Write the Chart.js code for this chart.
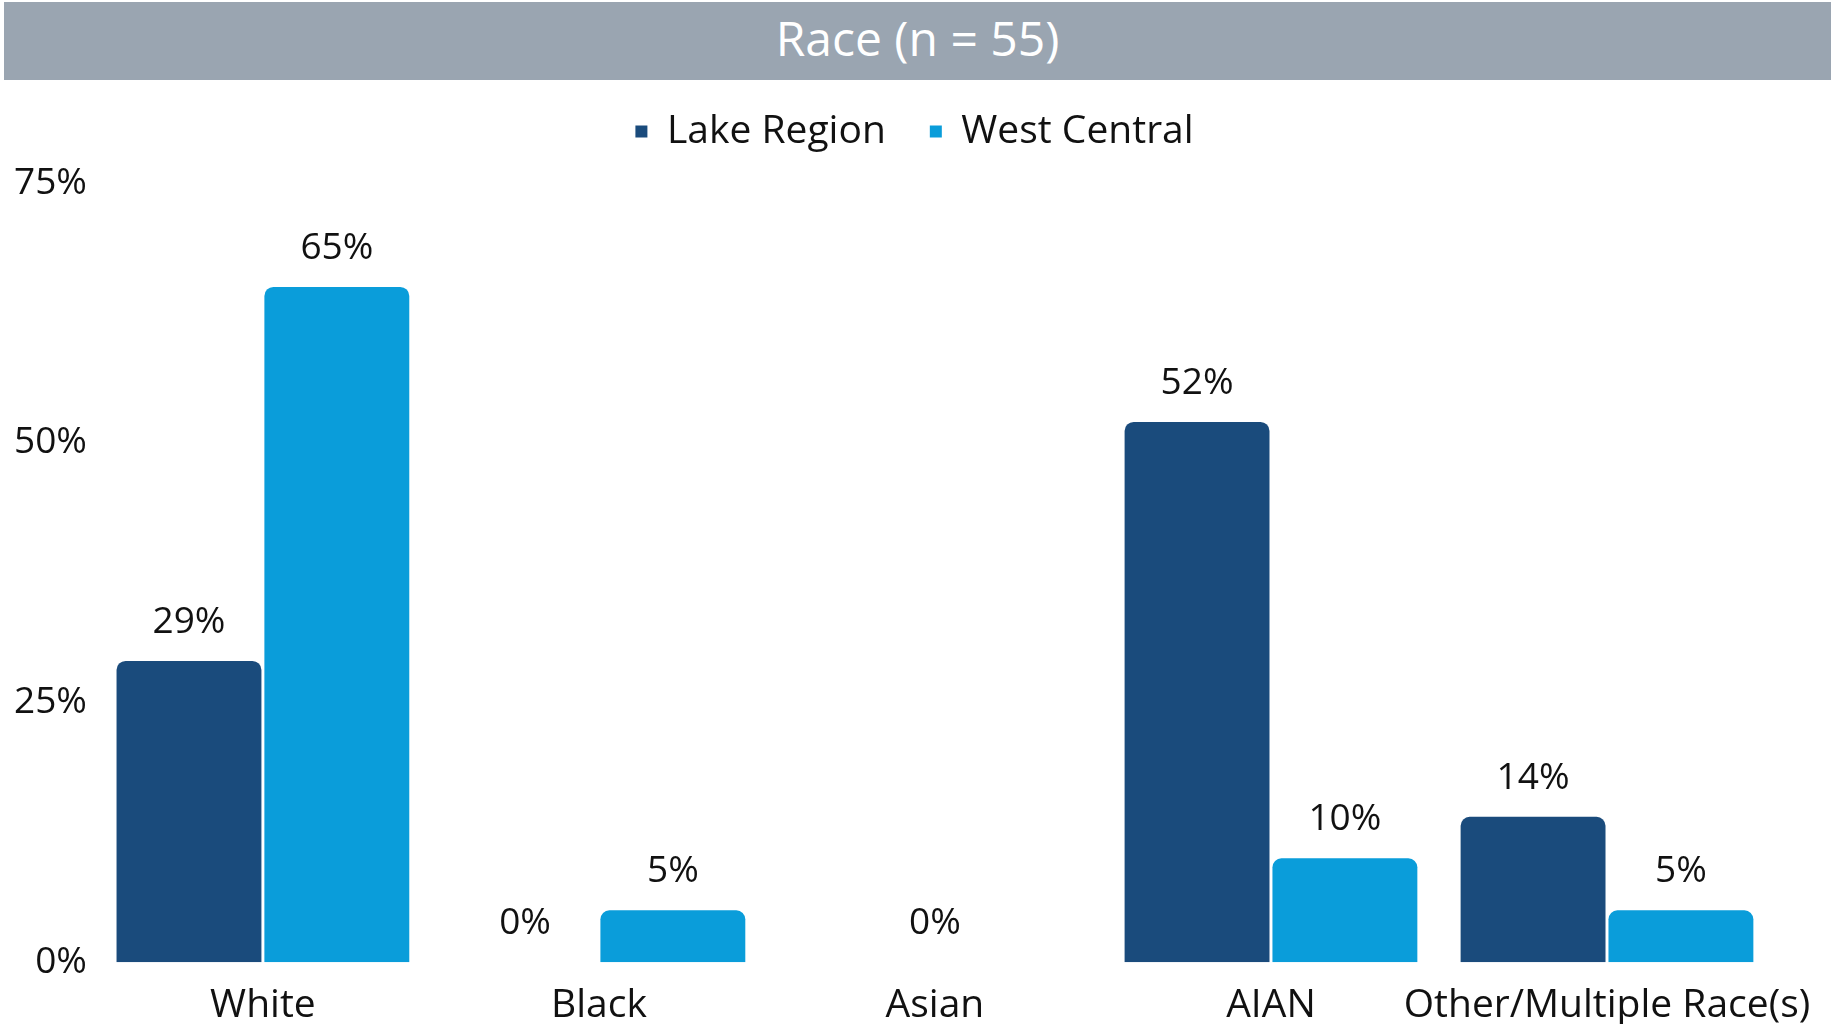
<!DOCTYPE html>
<html>
<head>
<meta charset="utf-8">
<script src="https://cdn.jsdelivr.net/npm/chart.js@4.4.1/dist/chart.umd.min.js"></script>
<style>
  html, body { margin: 0; padding: 0; background: #fff; overflow: hidden; }
  #titleBar {
    position: absolute; left: 4px; top: 2px; width: 1827px; height: 78px;
    background: #9aa5b1; color: #fff; text-align: center;
    font-family: "Open Sans", sans-serif; font-size: 48px; line-height: 72px;
  }
  #wrap { position: absolute; left: 0; top: 80px; width: 1835px; height: 964px; }
</style>
</head>
<body>
<div id="titleBar">Race (n = 55)</div>
<div id="wrap"><canvas id="chart"></canvas></div>
<script>
// ---------- DATA ----------
const categories = ["White", "Black", "Asian", "AIAN", "Other/Multiple Race(s)"];
const lakeRegion = [29, 0, 0, 52, 14];
const westCentral = [65, 5, null, 10, 5];
const yTicks = [0, 25, 50, 75];

const FONT = "'Open Sans', sans-serif";

// labels drawn above each bar
const barLabels = {
  id: "barLabels",
  afterDatasetsDraw(chart) {
    const ctx = chart.ctx;
    ctx.save();
    ctx.font = "37px " + FONT;
    ctx.fillStyle = "#111";
    ctx.textAlign = "center";
    ctx.textBaseline = "bottom";
    chart.data.datasets.forEach((ds, i) => {
      const meta = chart.getDatasetMeta(i);
      meta.data.forEach((bar, j) => {
        const v = ds.data[j];
        if (v === null || v === undefined) return;
        ctx.fillText(v + "%", bar.x, bar.y - 20);
      });
    });
    ctx.restore();
  }
};

// extra room under the legend, and nudge it to the centre
const legendSpace = {
  id: "legendSpace",
  beforeInit(chart) {
    const fit = chart.legend.fit;
    chart.legend.fit = function () {
      fit.bind(chart.legend)();
      this.height += 22;
      if (this.lineWidths) this.lineWidths = this.lineWidths.map(w => w - 40);
    };
  }
};

new Chart(document.getElementById("chart"), {
  type: "bar",
  data: {
    labels: categories,
    datasets: [
      { label: "Lake Region", data: lakeRegion, backgroundColor: "#1a4b7c",
        borderRadius: { topLeft: 9, topRight: 9 }, borderSkipped: "start" },
      { label: "West Central", data: westCentral, backgroundColor: "#0a9dda",
        borderRadius: { topLeft: 9, topRight: 9 }, borderSkipped: "start" }
    ]
  },
  options: {
    responsive: true,
    maintainAspectRatio: false,
    animation: false,
    skipNull: true,
    categoryPercentage: 0.88,
    barPercentage: 0.98,
    layout: { padding: { left: 14, right: 60, top: -12, bottom: 3 } },
    plugins: {
      title: { display: false },
      tooltip: { enabled: false },
      legend: {
        position: "top",
        labels: {
          font: { family: FONT, size: 39 },
          color: "#111",
          boxWidth: 12, boxHeight: 12,
          padding: 44
        }
      }
    },
    scales: {
      x: {
        grid: { display: false },
        border: { display: false },
        ticks: {
          font: { family: FONT, size: 39 }, color: "#111",
          maxRotation: 0, autoSkip: false, padding: 12
        }
      },
      y: {
        min: 0, max: 75,
        afterBuildTicks(axis) { axis.ticks = yTicks.map(v => ({ value: v })); },
        grid: { display: false },
        border: { display: false },
        ticks: {
          font: { family: FONT, size: 37 }, color: "#111", padding: 0,
          callback: v => v + "%"
        }
      }
    }
  },
  plugins: [barLabels, legendSpace]
});
</script>
</body>
</html>
